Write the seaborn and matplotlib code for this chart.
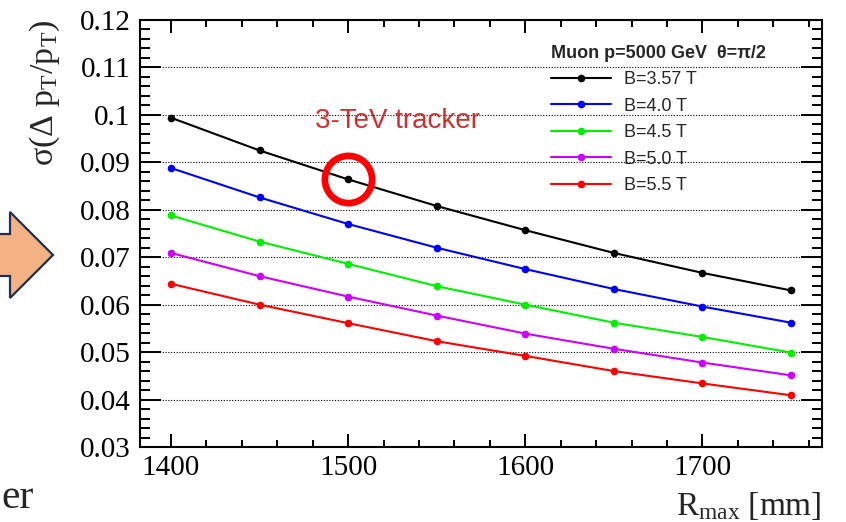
import numpy as np
import pandas as pd
import matplotlib
matplotlib.use('Agg')
import matplotlib.pyplot as plt
from matplotlib.patches import Polygon
from matplotlib.ticker import MultipleLocator
import seaborn as sns

# R_max [mm]
r_max = [1400, 1450, 1500, 1550, 1600, 1650, 1700, 1750]

# sigma(dpT/pT) for a 5000 GeV muon at theta = pi/2
res_b357 = [0.0994, 0.0925, 0.0864, 0.0808, 0.0757, 0.0709, 0.0667, 0.0630]
res_b40 = [0.0888, 0.0826, 0.0770, 0.0720, 0.0675, 0.0633, 0.0596, 0.0562]
res_b45 = [0.0788, 0.0733, 0.0686, 0.0639, 0.0600, 0.0562, 0.0532, 0.0499]
res_b50 = [0.0709, 0.0660, 0.0617, 0.0577, 0.0539, 0.0507, 0.0478, 0.0451]
res_b55 = [0.0644, 0.0600, 0.0561, 0.0523, 0.0492, 0.0460, 0.0434, 0.0409]

series_labels = ['B=3.57 T', 'B=4.0 T', 'B=4.5 T', 'B=5.0 T', 'B=5.5 T']
series_colors = ['#000000', '#0000ff', '#00ee00', '#cc00ff', '#ff0000']
legend_title = 'Muon p=5000 GeV  θ=π/2'

# highlighted working point (3-TeV tracker)
highlight_r = 1500

sns.set_style('ticks')
plt.rcParams['font.family'] = ['Liberation Serif', 'DejaVu Serif']
plt.rcParams['mathtext.fontset'] = 'custom'
plt.rcParams['mathtext.rm'] = 'Liberation Serif'
plt.rcParams['mathtext.it'] = 'Liberation Serif:italic'

fig = plt.figure(figsize=(8.46, 5.22), dpi=100)
ax = fig.add_axes([140 / 846, 75 / 522, 682 / 846, 427 / 522])

all_res = [res_b357, res_b40, res_b45, res_b50, res_b55]
handles = []
for vals, lab, col in zip(all_res, series_labels, series_colors):
    df = pd.DataFrame({'R': r_max, 'sigma': vals})
    sns.lineplot(data=df, x='R', y='sigma', ax=ax, color=col, lw=1.5,
                 marker='o', markersize=5.5, markeredgecolor=col,
                 markeredgewidth=0, label=lab, zorder=4)
    handles.append(ax.lines[-1])

# red circle around the 3-TeV tracker point
hi = r_max.index(highlight_r)
ax.plot([highlight_r], [res_b357[hi]], marker='o', markersize=34,
        markerfacecolor='none', markeredgecolor='#ff0000',
        markeredgewidth=4.8, zorder=6)
ax.text(0.377, 0.763, '3-TeV tracker', transform=ax.transAxes,
        ha='center', va='center', color='#d03030', fontsize=20,
        family='Liberation Sans')

ax.set_xlim(1382.5, 1767.5)
ax.set_ylim(0.03, 0.12)
ax.xaxis.set_major_locator(MultipleLocator(100))
ax.xaxis.set_minor_locator(MultipleLocator(20))
ax.yaxis.set_minor_locator(MultipleLocator(0.002))
ax.set_yticks(np.arange(0.03, 0.1201, 0.01))
ax.set_yticklabels(['0.03', '0.04', '0.05', '0.06', '0.07', '0.08',
                    '0.09', '0.1', '0.11', '0.12'])

ax.tick_params(axis='both', which='both', direction='in', colors='black',
               top=True, right=True, width=1.4)
ax.tick_params(axis='x', which='major', length=9.5, labelsize=21, pad=6)
ax.tick_params(axis='x', which='minor', length=4.7)
ax.tick_params(axis='y', which='major', length=15, labelsize=21, pad=7)
ax.tick_params(axis='y', which='minor', length=7.5)
for sp in ax.spines.values():
    sp.set_linewidth(1.5)
    sp.set_color('black')
    sp.set_visible(True)

ax.yaxis.grid(True, which='major', color='black', lw=0.8, ls=(0, (1, 1.5)))
ax.xaxis.grid(False)

ax.set_xlabel(r'$\mathrm{R_{max}}$ [mm]', fontsize=24, loc='right')
ax.xaxis.set_label_coords(1.0, -0.10)
ax.set_ylabel(r'$\mathrm{\sigma(\Delta\ p_{T}/p_{T})}$', fontsize=24.5, loc='top')
ax.yaxis.set_label_coords(-0.115, 1.0)

leg = ax.legend(handles, series_labels, title=legend_title, loc='upper left',
                bbox_to_anchor=(551 / 846, 477 / 522),
                bbox_transform=fig.transFigure, frameon=False,
                borderpad=0, borderaxespad=0, handlelength=3.3,
                handletextpad=0.75, labelspacing=0.52, alignment='left',
                prop={'family': 'Liberation Sans', 'size': 13},
                title_fontproperties={'family': 'Liberation Sans',
                                      'size': 13, 'weight': 'bold'})

# decoration from the slide: arrow and cut-off word at the left edge
arrow_px = [(-5, 234), (10, 234), (10, 212), (53, 255), (10, 298),
            (10, 276), (-5, 276)]
arrow = Polygon([(x / 846, (522 - y) / 522) for x, y in arrow_px],
                closed=True, transform=fig.transFigure, facecolor='#f4b183',
                edgecolor='#1f3050', lw=1.6)
fig.patches.append(arrow)
fig.text(1 / 846, 14 / 522, 'er', ha='left', va='baseline', fontsize=30,
         family='Liberation Serif')

fig.savefig('out.png', dpi=100)
plt.close()
